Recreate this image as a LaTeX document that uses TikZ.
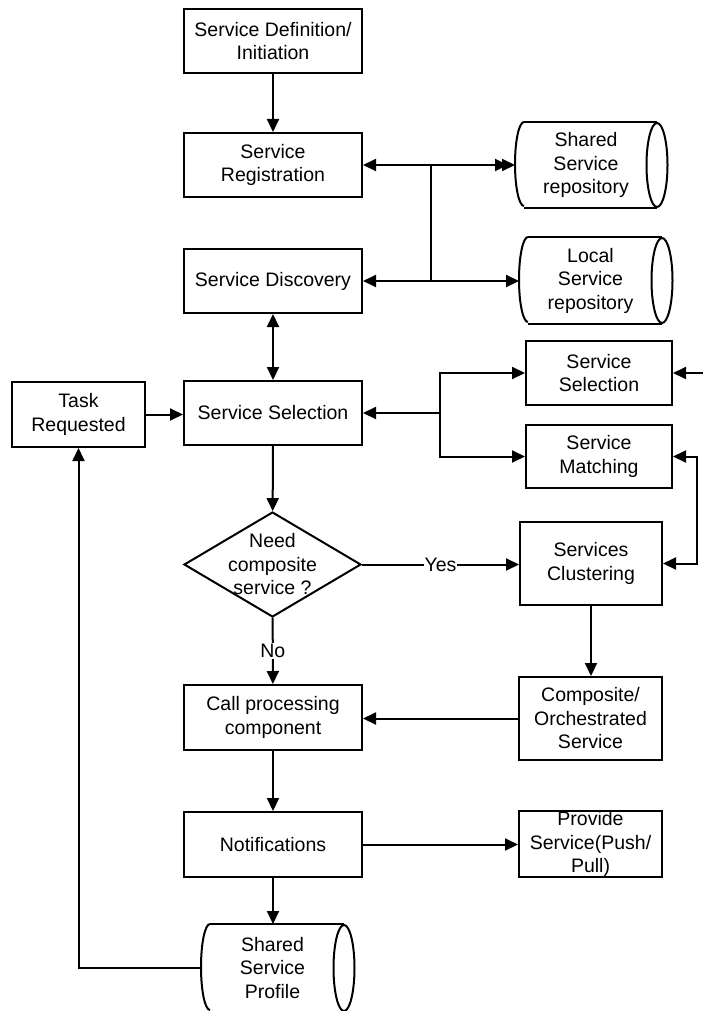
\documentclass[tikz,border=0pt]{standalone}
\usepackage{fontspec}
\setmainfont{Liberation Sans}
\usetikzlibrary{arrows.meta,shapes.geometric}
% outline of a stored-data shape around an invisible node:
% #1 node name, #2 half height (pt)
\newcommand\storeline[2]{%
  \draw ([xshift=9pt]#1.north west) -- (#1.north east)
        ([xshift=9pt]#1.south west) -- (#1.south east);
  \draw ([xshift=9pt]#1.north west) arc[start angle=90,end angle=270,x radius=9pt,y radius=#2pt];
  \draw (#1.east) ellipse[x radius=10.5pt,y radius=#2pt];
}
\begin{document}
\begin{tikzpicture}[x=1pt,y=-1pt,
  font=\fontsize{19.5pt}{23.5pt}\selectfont,
  line width=2pt,
  box/.style={draw, rectangle, align=center, inner sep=0pt},
  store/.style={rectangle, align=center, inner sep=0pt},
  arr/.style={-{Triangle[length=13pt,width=12pt]}},
  twoarr/.style={{Triangle[length=13pt,width=12pt]}-{Triangle[length=13pt,width=12pt]}},
  tag/.style={fill=white, inner sep=1pt},
]
\useasboundingbox (0,0) rectangle (702,1011);

% main column
\node[box, minimum width=178pt, minimum height=64pt] (def) at (273,41) {Service Definition/\\Initiation};
\node[box, minimum width=178pt, minimum height=64pt] (reg) at (273,165) {Service\\Registration};
\node[box, minimum width=178pt, minimum height=64pt] (disc) at (273,281) {Service Discovery};
\node[box, minimum width=178pt, minimum height=64pt] (sel) at (273,413) {Service Selection};
\node[box, minimum width=133pt, minimum height=65pt] (task) at (78.5,414.5) {Task\\Requested};
\node[diamond, draw, minimum width=177pt, minimum height=105pt, inner sep=0pt] (dia) at (272.5,564.5) {};
\node[align=center, inner sep=0pt] (diatext) at (dia.center) {Need\\composite\\service ?};
\node[box, minimum width=178pt, minimum height=65pt] (call) at (273,717.5) {Call processing\\component};
\node[box, minimum width=178pt, minimum height=65pt] (notif) at (273,844.5) {Notifications};

% stores
\node[store, minimum width=140pt, minimum height=84pt] (shrepo) at (586,165) {Shared\\Service\\repository};
\storeline{shrepo}{42}
\node[store, minimum width=141pt, minimum height=85pt] (lcrepo) at (590.5,280.5) {Local\\Service\\repository};
\storeline{lcrepo}{42.5}
\node[store, minimum width=141pt, minimum height=86pt] (profile) at (272.5,968) {Shared\\Service\\Profile};
\storeline{profile}{43}

% right column
\node[box, minimum width=146pt, minimum height=64pt] (selR) at (599,373) {Service\\Selection};
\node[box, minimum width=146pt, minimum height=63pt] (match) at (599,456.5) {Service\\Matching};
\node[box, minimum width=142pt, minimum height=83pt] (clust) at (591,563.5) {Services\\Clustering};
\node[box, minimum width=143pt, minimum height=83pt] (comp) at (590.5,718.5) {Composite/\\Orchestrated\\Service};
\node[box, minimum width=143pt, minimum height=66pt] (prov) at (590.5,844) {Provide\\Service(Push/\\Pull)};

% main flow
\draw[arr] (def) -- (reg);
\draw[twoarr] (disc) -- (sel);
\draw[arr] (sel) -- (dia);
\draw[arr] (dia) -- node[tag] {No} (call);
\draw[arr] (call) -- (notif);
\draw[arr] (notif.south) -- (notif.south |- profile.north);
\draw[arr] (profile.west) -| (task.south);
\draw[arr] (task.east) -- (task.east -| sel.west);

% registry links
\coordinate (j1) at (431,165);
\coordinate (j2) at (431,281);
\draw (j1) -- (j2);
\draw[arr] (j1) -- (reg.east);
\draw[arr] (j2) -- (disc.east);
\draw[arr] (j1) -- (shrepo.west);
\draw[arr] (j1) -- ([xshift=-7pt]shrepo.west);
\draw[arr] (j2) -- (j2 -| lcrepo.west);

% selection branch
\coordinate (k) at (440,413);
\draw[arr] (k) -- (sel.east);
\draw[arr] (k) |- (selR.west);
\draw[arr] (k) |- (match.west);
\coordinate (edge) at (703,373);
\draw[arr] (edge) -- (selR.east);
\coordinate (m) at (697,510);
\draw[arr] (m) |- (match.east);
\draw[arr] (m) |- (clust.east);

% composite branch
\draw[arr] (dia.east) -- node[tag] {Yes} (dia.east -| clust.west);
\draw[arr] (clust.south) -- (clust.south |- comp.north);
\draw[arr] (comp.west) -- (comp.west -| call.east);
\draw[arr] (notif.east) -- (notif.east -| prov.west);
\end{tikzpicture}
\end{document}
